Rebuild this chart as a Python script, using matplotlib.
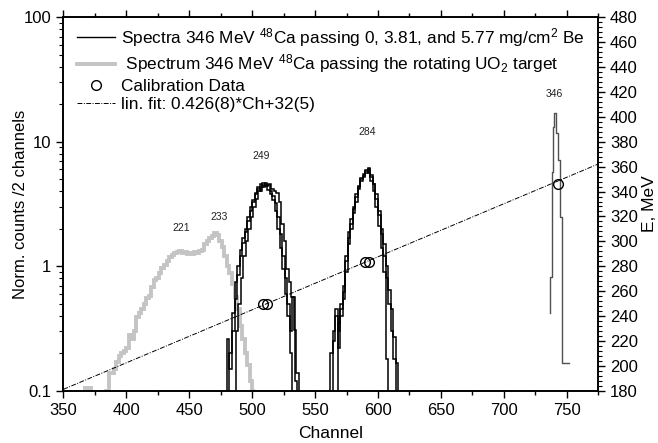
import numpy as np
import matplotlib
matplotlib.use('Agg')
import matplotlib.pyplot as plt
from matplotlib.lines import Line2D
from matplotlib.ticker import MultipleLocator, LogLocator, FixedFormatter, FixedLocator, NullFormatter

plt.rcParams['font.family'] = ['Liberation Sans', 'DejaVu Sans']
plt.rcParams['mathtext.fontset'] = 'custom'
plt.rcParams['mathtext.rm'] = 'Liberation Sans'
plt.rcParams['mathtext.it'] = 'Liberation Sans:italic'

# ---- data ----
# grey spectrum (UO2 target), 2-channel bins starting at ch 366
grey_start = 366
grey_counts = [0.105, 0.105, 0.105, 0.05, 0.05, 0.05, 0.05, 0.05, 0.05, 0.1,
               0.14, 0.14, 0.15, 0.17, 0.19, 0.2, 0.21, 0.22, 0.28, 0.26,
               0.3, 0.39, 0.42, 0.45, 0.5, 0.56, 0.58, 0.68, 0.77, 0.8,
               0.88, 0.96, 1.02, 1.1, 1.19, 1.22, 1.28, 1.31, 1.32, 1.27,
               1.3, 1.26, 1.28, 1.25, 1.3, 1.27, 1.33, 1.35, 1.5, 1.6,
               1.68, 1.75, 1.84, 1.78, 1.6, 1.43, 1.2, 1.0, 0.88, 0.72,
               0.57, 0.45, 0.33, 0.26, 0.2, 0.16, 0.12, 0.1]

# three spectra around 249 MeV (start channel, counts per 2 channels)
s249_a_start = 480
s249_a = [0.26, 0.15, 0.42, 0.75, 1.0, 1.35, 1.7, 2.0, 2.5, 3.0, 3.4, 3.9, 4.2,
          4.6, 4.3, 4.7, 4.1, 3.8, 3.4, 2.8, 2.0, 1.4, 0.95, 0.6, 0.4, 0.2]
s249_b_start = 482
s249_b = [0.2, 0.3, 0.55, 0.85, 1.2, 1.55, 1.9, 2.3, 2.8, 3.3, 3.8, 4.3, 4.0,
          4.7, 4.4, 4.5, 4.0, 3.7, 3.2, 2.5, 1.8, 1.2, 0.8, 0.5, 0.3, 0.57, 0.12]
s249_c_start = 487
s249_c = [0.3, 0.5, 0.8, 1.2, 1.6, 2.0, 2.5, 3.0, 3.5, 4.0, 4.3, 4.5, 4.4,
          4.6, 4.2, 4.0, 3.9, 3.3, 2.2, 1.6, 0.95, 0.75, 0.57, 0.31, 0.14]

# three spectra around 284 MeV
s284_a_start = 562
s284_a = [0.2, 0.3, 0.45, 0.22, 0.4, 0.55, 1.1, 1.7, 2.2, 2.9, 3.6, 4.4,
          5.0, 5.3, 5.9, 5.6, 4.8, 4.0, 3.0, 2.1, 1.4, 0.9, 0.18]
s284_b_start = 564
s284_b = [0.25, 0.4, 0.3, 0.5, 0.62, 0.9, 1.5, 2.0, 2.7, 3.3, 4.2, 4.8, 5.2,
          5.6, 6.1, 5.2, 4.6, 3.5, 2.6, 1.8, 1.2, 0.8, 0.5, 0.3, 0.18]
s284_c_start = 568
s284_c = [0.35, 0.45, 0.7, 1.2, 1.9, 2.4, 3.0, 3.8, 4.3, 5.1, 5.5, 5.8,
          6.0, 5.4, 4.6, 3.8, 2.8, 2.0, 1.5, 1.0, 0.64, 0.45, 0.27, 0.166]

# 346 MeV peak (irregular bin edges)
s346_edges = [736.5, 738.3, 739.3, 740.1, 741.5, 742.7, 744.6, 746.3, 749.8, 751.8]
s346_counts = [0.82, 5.75, 13.2, 17.0, 11.7, 7.2, 2.5, 0.166, 0.166]
s346_floor = 0.42

# calibration data (channel, energy MeV) and linear fit
cal_ch = [508.6, 511.8, 589.3, 592.7, 742.6]
cal_e = [249.4, 249.4, 283.6, 283.6, 345.8]
fit_slope = 0.426
fit_offset = 32.0
fit_range = [350, 775]

peak_labels = ['249', '284', '346', '221', '233']
peak_x = [507, 591.5, 740, 444, 474]
peak_y = [7.0, 11.0, 22.0, 1.85, 2.25]

# ---- figure ----
fig = plt.figure(figsize=(6.58, 4.43), dpi=100)
ax = fig.add_axes([0.0962, 0.118, 0.8131, 0.843])
ax2 = ax.twinx()

ax.set_yscale('log')
ax.set_xlim(350, 775)
ax.set_ylim(0.1, 100)
ax2.set_ylim(180, 480)


def stairs(a, start, counts, **kw):
    edges = start + 2 * np.arange(len(counts) + 1)
    a.stairs(counts, edges, baseline=0.01, **kw)


grey_edges = grey_start + 2 * np.arange(len(grey_counts) + 1)
ax.stairs(grey_counts, grey_edges, baseline=None, color='#c4c4c4', lw=2.8)

for st, c in [(s249_a_start, s249_a), (s249_b_start, s249_b), (s249_c_start, s249_c),
              (s284_a_start, s284_a), (s284_b_start, s284_b), (s284_c_start, s284_c)]:
    stairs(ax, st, c, color='black', lw=1.1)

xs = [s346_edges[0]] + s346_edges
ys = [s346_floor] + s346_counts + [s346_counts[-1]]
ax.plot(xs, ys, drawstyle='steps-post', color='#505050', lw=1.0)

for t, x, y in zip(peak_labels, peak_x, peak_y):
    ax.text(x, y, t, fontsize=7.5, ha='center', va='bottom', color='#222222')

fx = np.array(fit_range)
ax2.plot(fx, fit_slope * fx + fit_offset, color='black', lw=0.7,
         dashes=(5, 1.5, 1, 1.5))
ax2.plot(cal_ch, cal_e, 'o', mfc='none', mec='black', ms=7, mew=1.0)

# ticks
ax.xaxis.set_major_locator(MultipleLocator(50))
ax.xaxis.set_minor_locator(MultipleLocator(25))
ax.yaxis.set_major_locator(FixedLocator([0.1, 1, 10, 100]))
ax.yaxis.set_major_formatter(FixedFormatter(['0.1', '1', '10', '100']))
ax.yaxis.set_minor_locator(LogLocator(base=10, subs=np.arange(2, 10)))
ax.yaxis.set_minor_formatter(NullFormatter())
ax.tick_params(axis='x', which='major', direction='out', length=5, width=1, top=True, labelsize=12)
ax.tick_params(axis='x', which='minor', direction='out', length=3, width=1, top=True)
ax.tick_params(axis='y', which='major', direction='out', length=5, width=1, labelsize=12)
ax.tick_params(axis='y', which='minor', direction='out', length=3, width=0.8)
ax2.yaxis.set_major_locator(MultipleLocator(20))
ax2.yaxis.set_minor_locator(MultipleLocator(4))
ax2.tick_params(axis='y', which='major', direction='out', length=5, width=1, labelsize=12)
ax2.tick_params(axis='y', which='minor', direction='out', length=3, width=0.8)
for a in (ax, ax2):
    for s in a.spines.values():
        s.set_linewidth(1.2)

ax.set_xlabel('Channel', fontsize=12.5)
ax.xaxis.set_label_coords(0.5, -0.095)
ax.set_ylabel('Norm. counts /2 channels', fontsize=12)
ax.yaxis.set_label_coords(-0.066, 0.5)
ax2.set_ylabel('E, MeV', fontsize=12.5, labelpad=3)

handles = [
    Line2D([], [], color='black', lw=1.0),
    Line2D([], [], color='#c4c4c4', lw=2.8),
    Line2D([], [], ls='none', marker='o', mfc='none', mec='black', ms=7),
    Line2D([], [], color='black', lw=0.7, dashes=(5, 1.5, 1, 1.5)),
]
labels = [
    r'Spectra 346 MeV $^{48}$Ca passing 0, 3.81, and 5.77 mg/cm$^2$ Be',
    r' Spectrum 346 MeV $^{48}$Ca passing the rotating UO$_2$ target',
    'Calibration Data',
    'lin. fit: 0.426(8)*Ch+32(5)',
]
ax2.legend(handles, labels, loc='upper left', bbox_to_anchor=(0.01, 1.0),
           frameon=False, fontsize=12.4, handlelength=2.2, handletextpad=0.35,
           labelspacing=0.2, borderaxespad=0.1)

fig.savefig('out.png', dpi=100)
